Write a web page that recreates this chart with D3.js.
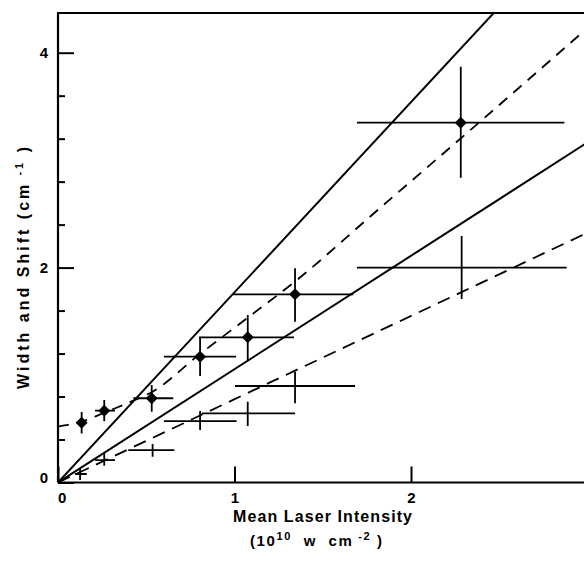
<!DOCTYPE html>
<html>
<head>
<meta charset="utf-8">
<script src="https://cdn.jsdelivr.net/npm/d3@7"></script>
<style>
  html, body { margin: 0; padding: 0; background: #fff; }
  svg { display: block; }
  text { font-family: "Liberation Sans", Arial, Helvetica, sans-serif; font-weight: bold; fill: #000; }
</style>
</head>
<body>
<svg id="chart" width="584" height="569"></svg>
<script>
// ---- Data ----
// Filled diamonds: x (intensity), y, x-error range, y-error range
const widthX    = [0.134, 0.262, 0.531, 0.805, 1.075, 1.343, 2.282];
const widthY    = [0.557, 0.668, 0.784, 1.171, 1.351, 1.751, 3.349];
const widthXLo  = [0.134, 0.210, 0.427, 0.600, 0.800, 0.993, 1.694];
const widthXHi  = [0.134, 0.323, 0.653, 1.009, 1.337, 1.673, 2.869];
const widthYLo  = [0.457, 0.570, 0.659, 0.991, 1.140, 1.497, 2.837];
const widthYHi  = [0.657, 0.768, 0.907, 1.357, 1.559, 1.993, 3.870];

// Plain crosses
const shiftX    = [0.125, 0.262, 0.536, 0.805, 1.075, 1.343, 2.287];
const shiftY    = [0.079, 0.209, 0.302, 0.572, 0.644, 0.898, 2.000];
const shiftXLo  = [0.096, 0.210, 0.398, 0.600, 0.814, 1.003, 1.694];
const shiftXHi  = [0.163, 0.323, 0.659, 1.012, 1.343, 1.683, 2.882];
const shiftYLo  = [0.023, 0.156, 0.240, 0.489, 0.526, 0.737, 1.708];
const shiftYHi  = [0.132, 0.272, 0.358, 0.665, 0.752, 1.031, 2.294];

// Solid theory lines through the origin (slopes)
const solidSlopes = [1.77, 1.055];

// Upper dashed curve (sampled)
const dashUpperX = [0, 0.13, 0.27, 0.41, 0.54, 0.80, 1.08, 1.35, 1.80, 2.28, 3.0];
const dashUpperY = [0.52, 0.565, 0.655, 0.75, 0.85, 1.19, 1.54, 1.88, 2.52, 3.20, 4.23];

// Lower dashed line (sampled)
const dashLowerX = [0, 3.0];
const dashLowerY = [0, 2.325];

// Axes
const yMajorTicks = [0, 2, 4];
const yMinorTicks = [0.4, 0.8, 1.2, 1.6, 2.4, 2.8, 3.2, 3.6];
const xMajorTicks = [0, 1, 2];
const yTop = 4.37;

// ---- Drawing ----
const svg = d3.select("#chart");
const x = d3.scaleLinear().domain([0, 3]).range([58, 587.5]);
const y = d3.scaleLinear().domain([0, 4]).range([482.5, 52.7]);

svg.append("defs").append("clipPath").attr("id", "plotclip")
  .append("rect")
  .attr("x", x(0)).attr("y", y(yTop))
  .attr("width", x(3) - x(0)).attr("height", y(0) - y(yTop));

// Frame: left axis line, bottom axis line, top border
svg.append("line").attr("x1", x(0)).attr("x2", x(0)).attr("y1", y(yTop)).attr("y2", y(0))
  .attr("stroke", "#000").attr("stroke-width", 2.2);
svg.append("line").attr("x1", x(0)).attr("x2", x(3)).attr("y1", y(0)).attr("y2", y(0))
  .attr("stroke", "#000").attr("stroke-width", 2.2);
svg.append("line").attr("x1", x(0) - 1).attr("x2", x(3)).attr("y1", y(yTop)).attr("y2", y(yTop))
  .attr("stroke", "#000").attr("stroke-width", 2);

// Y axis major
const yAx = svg.append("g").attr("transform", `translate(${x(0)},0)`)
  .call(d3.axisLeft(y).tickValues(yMajorTicks).tickSizeInner(-16).tickSizeOuter(0).tickPadding(10).tickFormat(d3.format("d")));
yAx.select(".domain").remove();
yAx.selectAll("line").attr("stroke-width", 2);
yAx.selectAll("text").attr("font-size", 15).attr("font-family", null)
  .attr("dy", d => d === 0 ? "-0.02em" : "0.32em");

// Y axis minor
const yMin = svg.append("g").attr("transform", `translate(${x(0)},0)`)
  .call(d3.axisLeft(y).tickValues(yMinorTicks).tickSize(-7).tickFormat(""));
yMin.select(".domain").remove();
yMin.selectAll("line").attr("stroke-width", 2);

// X axis
const xAx = svg.append("g").attr("transform", `translate(0,${y(0)})`)
  .call(d3.axisBottom(x).tickValues(xMajorTicks).tickSizeInner(-16).tickSizeOuter(0).tickPadding(10).tickFormat(d3.format("d")));
xAx.select(".domain").remove();
xAx.selectAll("line").attr("stroke-width", 2);
xAx.selectAll("text").attr("font-size", 15).attr("font-family", null)
  .attr("dx", d => d === 0 ? "0.25em" : "0");

// Lines
const plot = svg.append("g").attr("clip-path", "url(#plotclip)");
solidSlopes.forEach(s => {
  plot.append("line")
    .attr("x1", x(0)).attr("y1", y(0))
    .attr("x2", x(3)).attr("y2", y(3 * s))
    .attr("stroke", "#000").attr("stroke-width", 2);
});

const lineGen = d3.line().x(d => x(d[0])).y(d => y(d[1])).curve(d3.curveMonotoneX);
plot.append("path")
  .datum(dashUpperX.map((v, i) => [v, dashUpperY[i]]))
  .attr("d", lineGen).attr("fill", "none").attr("stroke", "#000")
  .attr("stroke-width", 1.8).attr("stroke-dasharray", "11,8");
plot.append("path")
  .datum(dashLowerX.map((v, i) => [v, dashLowerY[i]]))
  .attr("d", lineGen).attr("fill", "none").attr("stroke", "#000")
  .attr("stroke-width", 1.8).attr("stroke-dasharray", "13,8");

// Error bars
function errorBars(xs, ys, xlo, xhi, ylo, yhi) {
  const g = plot.append("g").attr("stroke", "#000").attr("stroke-width", 1.8);
  xs.forEach((xv, i) => {
    g.append("line").attr("x1", x(xlo[i])).attr("x2", x(xhi[i]))
      .attr("y1", y(ys[i])).attr("y2", y(ys[i]));
    g.append("line").attr("x1", x(xv)).attr("x2", x(xv))
      .attr("y1", y(ylo[i])).attr("y2", y(yhi[i]));
  });
}
errorBars(widthX, widthY, widthXLo, widthXHi, widthYLo, widthYHi);
errorBars(shiftX, shiftY, shiftXLo, shiftXHi, shiftYLo, shiftYHi);

// Diamonds
plot.append("g").selectAll("path").data(widthX.map((v, i) => [v, widthY[i]])).join("path")
  .attr("d", d3.symbol(d3.symbolSquare, 72))
  .attr("transform", d => `translate(${x(d[0])},${y(d[1])}) rotate(45)`)
  .attr("fill", "#000");

// Axis titles
const xt = svg.append("text").attr("x", 233).attr("y", 522)
  .attr("font-size", 16).attr("textLength", 179).attr("lengthAdjust", "spacing")
  .text("Mean Laser Intensity");

const ut = svg.append("text").attr("x", 250).attr("y", 546)
  .attr("font-size", 15).attr("textLength", 132).attr("lengthAdjust", "spacing")
  .style("white-space", "pre");
ut.append("tspan").text("(10");
ut.append("tspan").attr("font-size", 11).attr("dy", -6).text("10");
ut.append("tspan").attr("dy", 6).text("  w  cm");
ut.append("tspan").attr("font-size", 11).attr("dy", -6).text(" -2");
ut.append("tspan").attr("dy", 6).text(" )");

const yt = svg.append("text")
  .attr("transform", "translate(29,268) rotate(-90)")
  .attr("text-anchor", "middle")
  .attr("font-size", 16).attr("textLength", 242).attr("lengthAdjust", "spacing")
  .style("white-space", "pre");
yt.append("tspan").text("Width and Shift (cm");
yt.append("tspan").attr("font-size", 11).attr("dy", -6).text(" -1");
yt.append("tspan").attr("dy", 6).text(" )");
</script>
</body>
</html>
